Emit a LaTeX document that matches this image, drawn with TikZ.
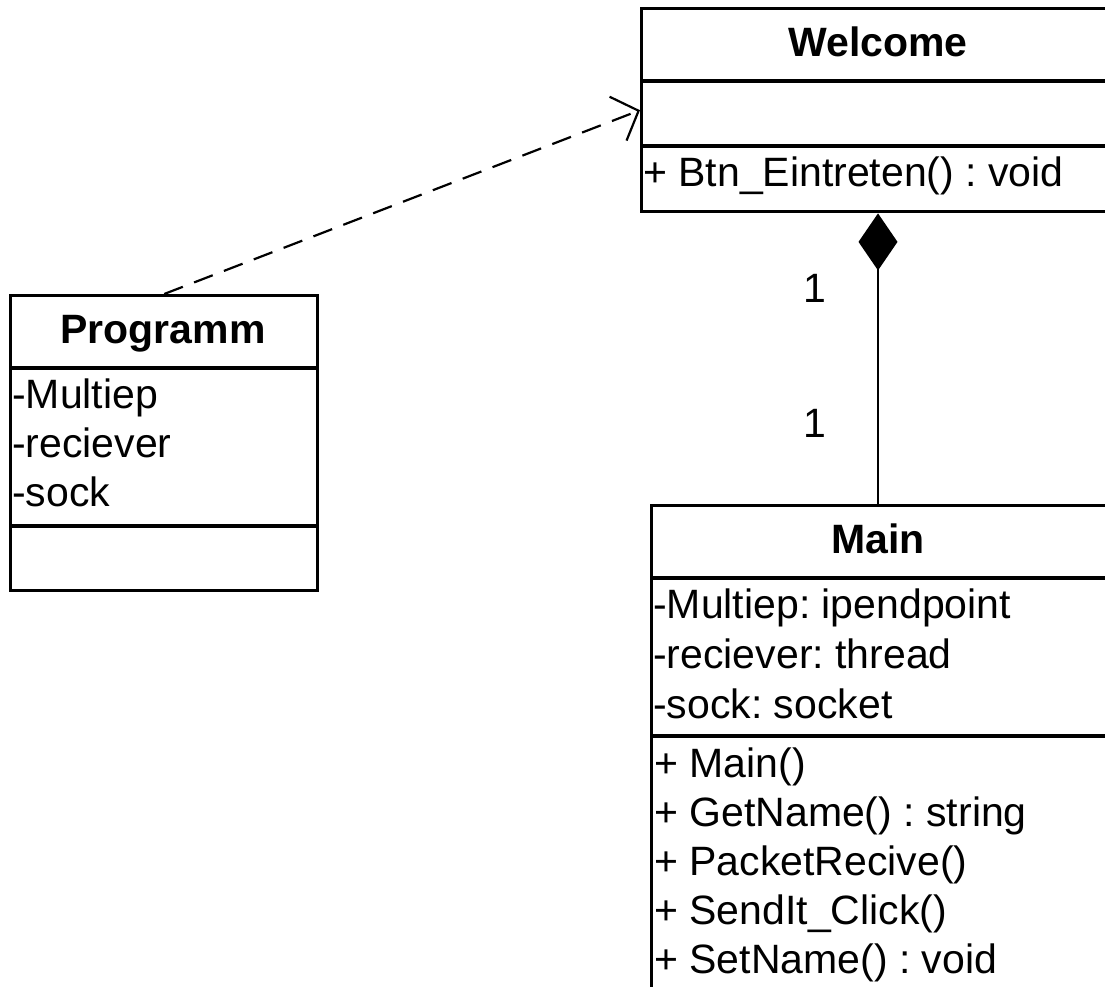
\documentclass[tikz,border=0pt]{standalone}
\usepackage{fontspec}
\setmainfont{Liberation Sans}
\usetikzlibrary{arrows.meta}
\frenchspacing
\begin{document}
\begin{tikzpicture}[x=1pt,y=-1pt,
  every node/.style={font=\fontsize{41}{48}\selectfont\frenchspacing,inner sep=0pt},
  classbox/.style={draw,line width=3.4pt,anchor=north west,minimum height=#1},
  sepline/.style={line width=3.4pt},
  title/.style={anchor=base,font=\fontsize{41}{48}\selectfont\bfseries},
  member/.style={anchor=base west},
  mult/.style={anchor=base},
  dep/.style={line width=2.2pt,dash pattern=on 20pt off 12pt,-{Straight Barb[length=22pt,width=47pt,line width=2.2pt]}},
  comp/.style={line width=2.2pt,{Diamond[length=57pt,width=39pt]}-}]
\useasboundingbox (0,0) rectangle (1105,987);
\clip (0,0) rectangle (1105,987);

% Welcome
\node[classbox=203pt,minimum width=520pt] (welcome) at (640,7) {};
\draw[sepline] (640,81) -- (1160,81);
\draw[sepline] (640,146) -- (1160,146);
\node[title] (wtitle) at (878,57) {Welcome};
\node[member] (wm1) at (643,187) {+ Btn\_Eintreten() : void};

% Programm
\node[classbox=295pt,minimum width=307pt] (programm) at (9,294) {};
\draw[sepline] (9,368) -- (316,368);
\draw[sepline] (9,526) -- (316,526);
\node[title] (ptitle) at (163,343) {Programm};
\node[member] (pa1) at (12,408) {-Multiep};
\node[member] (pa2) at (12,457) {-reciever};
\node[member] (pa3) at (12,506) {-sock};

% Main
\node[classbox=520pt,minimum width=520pt] (main) at (650,504) {};
\draw[sepline] (650,578) -- (1170,578);
\draw[sepline] (650,736) -- (1170,736);
\node[title] (mtitle) at (878,553) {Main};
\node[member] (ma1) at (653,618) {-Multiep: ipendpoint};
\node[member] (ma2) at (653,668) {-reciever: thread};
\node[member] (ma3) at (653,718) {-sock: socket};
\node[member] (mm1) at (654,777) {+ Main()};
\node[member] (mm2) at (654,826) {+ GetName() : string};
\node[member] (mm3) at (654,875) {+ PacketRecive()};
\node[member] (mm4) at (654,924) {+ SendIt\_Click()};
\node[member] (mm5) at (654,973) {+ SetName() : void};

% connectors
\draw[dep] (programm.north) -- (welcome.west);
\draw[comp] (wtitle |- welcome.south) -- (wtitle |- main.north);
\node[mult] (m1) at (815,302) {1};
\node[mult] (m2) at (815,437) {1};
\end{tikzpicture}
\end{document}
